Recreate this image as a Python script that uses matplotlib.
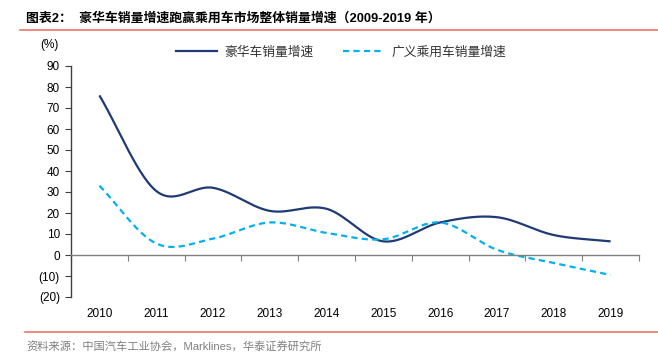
import numpy as np
import matplotlib
matplotlib.use("Agg")
import matplotlib.pyplot as plt
from matplotlib.lines import Line2D

plt.rcParams['font.family'] = ['Liberation Sans', 'Noto Sans CJK SC', 'DejaVu Sans']

years = ['2010', '2011', '2012', '2013', '2014', '2015', '2016', '2017', '2018', '2019']
luxury = [76.0, 30.5, 32.0, 21.0, 22.0, 6.5, 15.5, 18.0, 9.5, 6.5]
passenger = [33.0, 5.5, 7.8, 15.5, 10.5, 7.5, 15.5, 2.5, -3.8, -9.5]
yticks = [90, 80, 70, 60, 50, 40, 30, 20, 10, 0, -10, -20]
ytick_labels = ['90', '80', '70', '60', '50', '40', '30', '20', '10', '0', '(10)', '(20)']
series_names = ['豪华车销量增速', '广义乘用车销量增速']
title = '图表2：  豪华车销量增速跑赢乘用车市场整体销量增速（2009-2019 年）'
source = '资料来源：中国汽车工业协会，Marklines，华泰证券研究所'

NAVY = '#1F3A75'
CYAN = '#00B0F0'
RED = '#E8776B'
DASH = (2.8, 1.9)


def smooth(xs, ys, n=30):
    """Catmull-Rom style smoothing (as Excel smoothed lines)."""
    xs = np.asarray(xs, float)
    ys = np.asarray(ys, float)
    px = np.concatenate([[2 * xs[0] - xs[1]], xs, [2 * xs[-1] - xs[-2]]])
    py = np.concatenate([[ys[0] - (ys[1] - ys[0])], ys, [ys[-1] + (ys[-1] - ys[-2])]])
    outx, outy = [], []
    for i in range(1, len(px) - 2):
        p0, p1, p2, p3 = (np.array([px[j], py[j]]) for j in (i - 1, i, i + 1, i + 2))
        c1 = p1 + (p2 - p0) / 6.0
        c2 = p2 - (p3 - p1) / 6.0
        t = np.linspace(0, 1, n)[:, None]
        b = ((1 - t) ** 3) * p1 + 3 * ((1 - t) ** 2) * t * c1 + 3 * (1 - t) * t ** 2 * c2 + t ** 3 * p2
        if i > 1:
            b = b[1:]
        outx.extend(b[:, 0])
        outy.extend(b[:, 1])
    return np.array(outx), np.array(outy)


fig = plt.figure(figsize=(6.58, 3.59), dpi=100)
ax = fig.add_axes([71 / 658, 1 - 297 / 359, (639 - 71) / 658, (297 - 66) / 359])

x = np.arange(len(years))
sx, sy = smooth(x, luxury)
ax.plot(sx, sy, color=NAVY, lw=1.6, solid_capstyle='butt')
sx2, sy2 = smooth(x, passenger)
ax.plot(sx2, sy2, color=CYAN, lw=1.6, dashes=DASH)

ax.set_xlim(-0.5, len(years) - 0.5)
ax.set_ylim(-20, 90)

for s in ['top', 'right']:
    ax.spines[s].set_visible(False)
ax.spines['bottom'].set_position(('data', 0))
ax.spines['bottom'].set_color('#808080')
ax.spines['bottom'].set_linewidth(1.0)
ax.spines['left'].set_color('#404040')
ax.spines['left'].set_linewidth(1.0)

ax.set_yticks(yticks)
ax.set_yticklabels(ytick_labels, fontsize=8.5, color='#000000')
ax.tick_params(axis='y', direction='out', length=4, width=0.8, color='#404040', pad=4)

ax.set_xticks(x)
ax.set_xticklabels(years, fontsize=8.5)
ax.tick_params(axis='x', which='major', length=0, pad=38)
ax.set_xticks(np.arange(-0.5, len(years), 1.0), minor=True)
ax.tick_params(axis='x', which='minor', direction='out', length=4, width=0.8, color='#808080')

fig.text(49 / 658, 1 - 45 / 359, '(%)', fontsize=8.5, ha='center', va='center')

handles = [Line2D([0], [0], color=NAVY, lw=1.6),
           Line2D([0], [0], color=CYAN, lw=1.6, dashes=DASH)]
leg = fig.legend(handles, series_names, loc='center', bbox_to_anchor=(341 / 658, 1 - 52 / 359),
                 ncol=2, frameon=False, handlelength=3.2, columnspacing=2.3,
                 handletextpad=0.6, prop={'family': ['Noto Sans CJK SC'], 'size': 9.2})
for t in leg.get_texts():
    t.set_color('#333333')

fig.text(26 / 658, 1 - 18 / 359, title, fontsize=9.3, fontweight='bold', ha='left', va='center',
         family=['Liberation Sans', 'Noto Sans CJK SC'])
fig.add_artist(Line2D([20 / 658, 1], [1 - 30 / 359, 1 - 30 / 359], color=RED, lw=1.2))
fig.add_artist(Line2D([25 / 658, 1], [1 - 332 / 359, 1 - 332 / 359], color=RED, lw=1.2))
fig.text(26 / 658, 1 - 347 / 359, source, fontsize=8.1, color='#808080', ha='left', va='center',
         family=['Liberation Sans', 'Noto Sans CJK SC'])

fig.savefig('out.png', dpi=100)
